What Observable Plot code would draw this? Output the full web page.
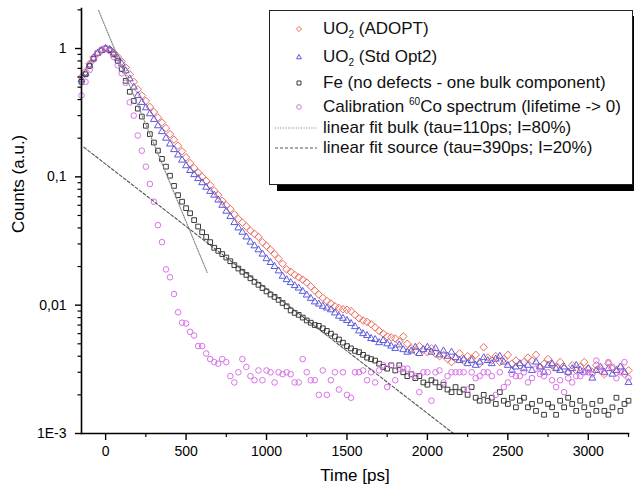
<!DOCTYPE html>
<html>
<head>
<meta charset="utf-8">
<script src="https://cdn.jsdelivr.net/npm/d3@7"></script>
<script src="https://cdn.jsdelivr.net/npm/@observablehq/plot@0.6"></script>
<style>
  body { margin: 0; background: #fff; }
  #wrap { position: relative; width: 634px; height: 491px; font-family: "Liberation Sans", Arial, sans-serif; }
  #legend { position: absolute; left: 269px; top: 10px; width: 362px; height: 173px; border: 1px solid #222; background: #fff; box-shadow: 8px 6px 0 #000; }
  .row { position: absolute; left: 53px; font-size: 17px; line-height: 20px; color: #111; white-space: nowrap; }
  .row sub { font-size: 10px; vertical-align: -4px; line-height: 0; }
  .row sup { font-size: 10px; vertical-align: 7px; line-height: 0; }
  .sym { position: absolute; }
</style>
</head>
<body>
<div id="wrap"></div>
<script>
// Time channels [ps]
const times = [
  -150, -125, -100, -75, -50, -25, 0, 25, 50, 75,
  100, 125, 150, 175, 200, 225, 250, 275, 300, 325,
  350, 375, 400, 425, 450, 475, 500, 525, 550, 575,
  600, 625, 650, 675, 700, 725, 750, 775, 800, 825,
  850, 875, 900, 925, 950, 975, 1000, 1025, 1050, 1075,
  1100, 1125, 1150, 1175, 1200, 1225, 1250, 1275, 1300, 1325,
  1350, 1375, 1400, 1425, 1450, 1475, 1500, 1525, 1550, 1575,
  1600, 1625, 1650, 1675, 1700, 1725, 1750, 1775, 1800, 1825,
  1850, 1875, 1900, 1925, 1950, 1975, 2000, 2025, 2050, 2075,
  2100, 2125, 2150, 2175, 2200, 2225, 2250, 2275, 2300, 2325,
  2350, 2375, 2400, 2425, 2450, 2475, 2500, 2525, 2550, 2575,
  2600, 2625, 2650, 2675, 2700, 2725, 2750, 2775, 2800, 2825,
  2850, 2875, 2900, 2925, 2950, 2975, 3000, 3025, 3050, 3075,
  3100, 3125, 3150, 3175, 3200, 3225, 3250
];

// UO2 (ADOPT)
const adopt = [
  0.60, 0.66, 0.76, 0.85, 0.92, 0.97, 1.0, 0.98, 0.93, 0.86,
  0.79, 0.71, 0.63, 0.55, 0.48, 0.43, 0.39, 0.35, 0.32, 0.29,
  0.265, 0.24, 0.215, 0.195, 0.175, 0.158, 0.142, 0.128, 0.117, 0.108,
  0.100, 0.093, 0.086, 0.078, 0.072, 0.065, 0.060, 0.056, 0.051, 0.047,
  0.044, 0.041, 0.038, 0.036, 0.034, 0.031, 0.029, 0.027, 0.025, 0.023,
  0.021, 0.019, 0.0182, 0.0172, 0.0165, 0.0158, 0.0150, 0.0140, 0.0130, 0.0121,
  0.0114, 0.0108, 0.0103, 0.0098, 0.0095, 0.0093, 0.0092, 0.0090, 0.0084, 0.0079,
  0.0076, 0.0074, 0.0071, 0.0067, 0.0063, 0.0060, 0.0057, 0.0056, 0.0055, 0.0052,
  0.0057, 0.0050, 0.0046, 0.0044, 0.0048, 0.0045, 0.0043, 0.0046, 0.0042, 0.0040,
  0.0041, 0.0038, 0.0036, 0.0039, 0.0042, 0.0037, 0.0040, 0.0038, 0.0041, 0.0035,
  0.0047, 0.0039, 0.0037, 0.0040, 0.0036, 0.0038, 0.0041, 0.0035, 0.0037, 0.0034,
  0.0036, 0.0039, 0.0037, 0.0041, 0.0033, 0.0035, 0.0038, 0.0034, 0.0033, 0.0036,
  0.0032, 0.0030, 0.0034, 0.0031, 0.0033, 0.0036, 0.0032, 0.0030, 0.0034, 0.0031,
  0.0029, 0.0035, 0.0032, 0.0030, 0.0033, 0.0029, 0.0031
];

// UO2 (Std Opt2)
const stdOpt2 = [
  0.57, 0.64, 0.74, 0.84, 0.92, 0.97, 1.0, 0.98, 0.92, 0.84,
  0.76, 0.67, 0.58, 0.50, 0.43, 0.38, 0.345, 0.31, 0.28, 0.25,
  0.225, 0.20, 0.18, 0.163, 0.148, 0.135, 0.122, 0.112, 0.104, 0.097,
  0.090, 0.083, 0.077, 0.072, 0.066, 0.060, 0.054, 0.049, 0.044, 0.040,
  0.037, 0.034, 0.031, 0.029, 0.027, 0.025, 0.023, 0.0215, 0.020, 0.0185,
  0.0168, 0.0158, 0.0150, 0.0142, 0.0136, 0.0128, 0.0120, 0.0113, 0.0106, 0.0102,
  0.0098, 0.0095, 0.0092, 0.0087, 0.0082, 0.0079, 0.0076, 0.0072, 0.0068, 0.0063,
  0.0060, 0.0058, 0.0055, 0.0054, 0.0051, 0.0053, 0.0050, 0.0048, 0.0046, 0.0049,
  0.0045, 0.0043, 0.0044, 0.0047, 0.0042, 0.0045, 0.0047, 0.0043, 0.0046, 0.0041,
  0.0044, 0.0040, 0.0043, 0.0039, 0.0037, 0.0038, 0.0035, 0.0037, 0.0034, 0.0036,
  0.0039, 0.0037, 0.0035, 0.0038, 0.0040, 0.0036, 0.0034, 0.0031, 0.0033, 0.0035,
  0.0032, 0.0034, 0.0031, 0.0036, 0.0033, 0.0030, 0.0034, 0.0035, 0.0032, 0.0031,
  0.0033, 0.0030, 0.0032, 0.0034, 0.0031, 0.0030, 0.0032, 0.0027, 0.0031, 0.0033,
  0.0030, 0.0032, 0.0029, 0.0031, 0.0033, 0.0030, 0.0025
];

// Fe (no defects - one bulk component)
const fe = [
  0.55, 0.63, 0.73, 0.83, 0.92, 0.97, 1.0, 0.97, 0.90, 0.80,
  0.69, 0.56, 0.46, 0.39, 0.34, 0.295, 0.25, 0.215, 0.185, 0.16,
  0.138, 0.12, 0.102, 0.085, 0.072, 0.064, 0.057, 0.052, 0.046, 0.041,
  0.037, 0.034, 0.031, 0.028, 0.0265, 0.025, 0.0235, 0.022, 0.0205, 0.0193,
  0.0182, 0.0172, 0.0162, 0.0152, 0.0144, 0.0136, 0.0128, 0.0121, 0.0116, 0.0110,
  0.0104, 0.0098, 0.0091, 0.0087, 0.0084, 0.0080, 0.0076, 0.0073, 0.0070, 0.0069,
  0.0066, 0.0063, 0.0060, 0.0057, 0.0054, 0.0051, 0.0048, 0.0046, 0.0044, 0.0043,
  0.0041, 0.0039, 0.0038, 0.0037, 0.0035, 0.0033, 0.0032, 0.0034, 0.0031, 0.0034,
  0.0030, 0.0028, 0.0029, 0.0027, 0.0028, 0.0025, 0.0024, 0.0026, 0.0025, 0.0023,
  0.0024, 0.0022, 0.0021, 0.0023, 0.0021, 0.0022, 0.0020, 0.0023, 0.0019, 0.0018,
  0.0020, 0.0018, 0.0019, 0.0017, 0.0021, 0.0018, 0.0017, 0.0019, 0.0016, 0.0018,
  0.0019, 0.0016, 0.0017, 0.0015, 0.0018, 0.0014, 0.0017, 0.0016, 0.0014, 0.0018,
  0.0016, 0.0019, 0.0017, 0.0015, 0.0018, 0.0016, 0.0014, 0.0017, 0.0015, 0.0018,
  0.0015, 0.0014, 0.0016, 0.0019, 0.0015, 0.0017, 0.0018
];

// Calibration 60Co spectrum (lifetime -> 0)
const calib = [
  0.43, 0.55, 0.68, 0.82, 0.92, 0.98, 1.0, 0.96, 0.86, 0.74,
  0.64, 0.54, 0.38, 0.30, 0.21, 0.16, 0.12, 0.088, 0.064, 0.042,
  0.031, 0.019, 0.0165, 0.0122, 0.0088, 0.0073, 0.0072, 0.0062, 0.0058, 0.0048,
  0.0048, 0.0042, 0.0038, 0.0036, 0.0035, 0.0038, 0.0036, 0.0028, 0.0025, 0.0030,
  0.0038, 0.0033, 0.0028, 0.0026, 0.0031, 0.0026, 0.0031, 0.0030, 0.0025, 0.0030,
  0.0029, 0.0030, 0.0029, 0.0025, 0.0025, 0.0038, 0.0030, 0.0026, 0.0026, 0.0020,
  0.0031, 0.0020, 0.0026, 0.0030, 0.0022, 0.0030, 0.0020, 0.0019, 0.0030, 0.0030,
  0.0031, 0.0026, 0.0030, 0.0025, 0.0031, 0.0034, 0.0023, 0.0034, 0.0026, 0.0032,
  0.0032, 0.0032, 0.0029, 0.0028, 0.0021, 0.0030, 0.0030, 0.0018, 0.0030, 0.0031,
  0.0025, 0.0028, 0.0030, 0.0030, 0.0030, 0.0030, 0.0022, 0.0030, 0.0027, 0.0028,
  0.0030, 0.0030, 0.0028, 0.0020, 0.0030, 0.0023, 0.0025, 0.0029, 0.0028, 0.0028,
  0.0030, 0.0025, 0.0027, 0.0032, 0.0029, 0.0028, 0.0030, 0.0026, 0.0023, 0.0026,
  0.0021, 0.0027, 0.0025, 0.0028, 0.0028, 0.0030, 0.0030, 0.0029, 0.0037, 0.0033,
  0.0030, 0.0036, 0.0033, 0.0027, 0.0030, 0.0036, 0.0027
];

// Fit lines (end points)
const bulkFitT = [-44, 631];
const bulkFitV = [1.98, 0.018];
const sourceFitT = [-135, 2162];
const sourceFitV = [0.17, 0.001];

// Ticks
const xMajor = [0, 500, 1000, 1500, 2000, 2500, 3000];
const xLabels = ["0", "500", "1000", "1500", "2000", "2500", "3000"];
const xMinor = [250, 750, 1250, 1750, 2250, 2750, 3250];
const yMajor = [1, 0.1, 0.01, 0.001];
const yLabels = ["1", "0,1", "0,01", "1E-3"];
const yMinor = [2, 0.9, 0.8, 0.7, 0.6, 0.5, 0.4, 0.3, 0.2,
  0.09, 0.08, 0.07, 0.06, 0.05, 0.04, 0.03, 0.02,
  0.009, 0.008, 0.007, 0.006, 0.005, 0.004, 0.003, 0.002];

const colors = ["#ee6a5c", "#5a5ae0", "#3a3a3a", "#d874e8"];

[adopt, stdOpt2, fe, calib].forEach((s, k) => { if (s.length !== times.length) console.error("length mismatch", k, s.length); });

const table = (vals) => times.map((t, i) => ({t, v: vals[i]})).filter(d => d.v != null);
const pairs = (ts, vs) => ts.map((t, i) => ({t, v: vs[i]}));

const xLab = new Map(xMajor.map((d, i) => [d, xLabels[i]]));
const yLab = new Map(yMajor.map((d, i) => [d, yLabels[i]]));

const chart = Plot.plot({
  width: 634,
  height: 491,
  marginLeft: 81,
  marginRight: 6,
  marginTop: 8,
  marginBottom: 58,
  style: {fontFamily: "'Liberation Sans', Arial, sans-serif", color: "#000", background: "#fff", overflow: "visible"},
  x: {domain: [-150, 3250]},
  y: {type: "log", domain: [0.001, 2.05]},
  marks: [
    Plot.dot(table(adopt), {x: "t", y: "v", symbol: "diamond2", r: 3.4, stroke: colors[0], fill: "none", strokeWidth: 1}),
    Plot.dot(table(stdOpt2), {x: "t", y: "v", symbol: "triangle2", r: 3.3, stroke: colors[1], fill: "none", strokeWidth: 1}),
    Plot.dot(table(fe), {x: "t", y: "v", symbol: "square2", r: 3.0, stroke: colors[2], fill: "none", strokeWidth: 1}),
    Plot.dot(table(calib), {x: "t", y: "v", symbol: "circle", r: 2.8, stroke: colors[3], fill: "none", strokeWidth: 1}),
    Plot.line(pairs(bulkFitT, bulkFitV), {x: "t", y: "v", stroke: "#8a8a8a", strokeWidth: 1.2, strokeDasharray: "1.2,1.4"}),
    Plot.line(pairs(sourceFitT, sourceFitV), {x: "t", y: "v", stroke: "#555", strokeWidth: 1.1, strokeDasharray: "3,2"}),
    Plot.frame({anchor: "left", stroke: "#000", strokeWidth: 1.6}),
    Plot.frame({anchor: "bottom", stroke: "#000", strokeWidth: 1.6}),
    Plot.axisY({ticks: yMajor, tickSize: 6, tickPadding: 9, tickFormat: d => yLab.get(d), fontSize: 14, label: null, strokeWidth: 1.4}),
    Plot.axisY({ticks: yMinor, tickSize: 3.5, tickFormat: () => "", label: null, strokeWidth: 1.2}),
    Plot.axisX({ticks: xMajor, tickSize: 7, tickPadding: 6, tickFormat: d => xLab.get(d), fontSize: 14, label: null, strokeWidth: 1.4}),
    Plot.axisX({ticks: xMinor, tickSize: 4, tickFormat: () => "", label: null, strokeWidth: 1.2}),
    Plot.text(["Counts (a.u.)"], {frameAnchor: "left", rotate: -90, dx: -63, dy: 12, fontSize: 17, fill: "#000"}),
    Plot.text(["Time [ps]"], {frameAnchor: "bottom", dy: 47, fontSize: 17, fill: "#000"})
  ]
});

const wrap = document.getElementById("wrap");
wrap.appendChild(chart);

// Legend (inside the plot area, top right)
const legend = document.createElement("div");
legend.id = "legend";
wrap.appendChild(legend);

const rowCenters = [18, 46, 72, 96, 117, 137];
const labelsHTML = [
  "UO<sub>2</sub> (ADOPT)",
  "UO<sub>2</sub> (Std Opt2)",
  "Fe (no defects - one bulk component)",
  "Calibration <sup>60</sup>Co spectrum (lifetime -&gt; 0)",
  "linear fit bulk (tau=110ps; I=80%)",
  "linear fit source (tau=390ps; I=20%)"
];
const symPaths = [
  "M0,-2.6L2.6,0L0,2.6L-2.6,0Z",
  "M0,-2.6L2.4,1.8L-2.4,1.8Z",
  "M-2,-2H2V2H-2Z",
  null
];
labelsHTML.forEach((html, i) => {
  const row = document.createElement("div");
  row.className = "row";
  row.style.top = (rowCenters[i] - 10) + "px";
  row.innerHTML = html;
  legend.appendChild(row);
  const svgNS = "http://www.w3.org/2000/svg";
  const s = document.createElementNS(svgNS, "svg");
  s.setAttribute("class", "sym");
  if (i < 4) {
    s.setAttribute("width", 12); s.setAttribute("height", 12);
    s.style.left = (29 - 6) + "px"; s.style.top = (rowCenters[i] - 6) + "px";
    let el;
    if (symPaths[i]) {
      el = document.createElementNS(svgNS, "path");
      el.setAttribute("d", symPaths[i]);
    } else {
      el = document.createElementNS(svgNS, "circle");
      el.setAttribute("r", 2.3);
    }
    el.setAttribute("transform", "translate(6,6)");
    el.setAttribute("fill", "none");
    el.setAttribute("stroke", colors[i]);
    el.setAttribute("stroke-width", 1);
    s.appendChild(el);
  } else {
    s.setAttribute("width", 42); s.setAttribute("height", 6);
    s.style.left = "5px"; s.style.top = (rowCenters[i] - 3) + "px";
    const ln = document.createElementNS(svgNS, "line");
    ln.setAttribute("x1", 0); ln.setAttribute("x2", 42);
    ln.setAttribute("y1", 3); ln.setAttribute("y2", 3);
    ln.setAttribute("stroke", i === 4 ? "#8a8a8a" : "#555");
    ln.setAttribute("stroke-width", 1);
    ln.setAttribute("stroke-dasharray", i === 4 ? "1.2,1.4" : "3,2");
    s.appendChild(ln);
  }
  legend.appendChild(s);
});
</script>
</body>
</html>
